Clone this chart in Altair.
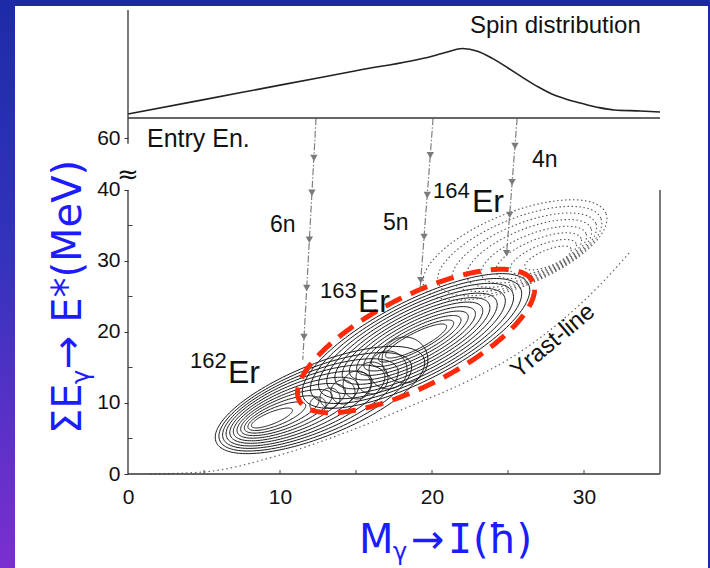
import numpy as np
import pandas as pd
import altair as alt

# ---------------------------------------------------------------- geometry
W, H = 532, 464                     # plot area (px)
X_MAX, Y_MAX = 35.0, 65.35          # spin I (hbar) and energy E* (MeV) ranges
PX_X = W / X_MAX
PX_Y = H / Y_MAX
PAD = {"left": 128, "top": 10, "right": 50, "bottom": 94}

# ---------------------------------------------------------------- data
# spin distribution drawn above the entry plane (its base sits on the E*=50 line)
spin_I = [0, 5, 10, 15, 20, 21, 22, 23, 24, 25, 26, 27, 28, 29, 30, 31, 32, 33.7, 35]
spin_h = [50.70, 52.73, 54.77, 56.80, 58.84, 59.44, 59.93, 59.55, 58.50, 57.18,
          55.80, 54.50, 53.40, 52.68, 52.11, 51.60, 51.27, 51.13, 50.99]
SPIN_BASE = 50.14

# entry-region contour rings: centre (I, E*), semi-axes (in I units), tilt (deg)
er162_cx = [12.63, 12.32, 12.00, 11.68, 11.37, 11.05, 10.74, 10.42, 10.11, 9.79, 9.47]
er162_cy = [10.42, 10.17, 9.92, 9.66, 9.41, 9.15, 8.90, 8.65, 8.39, 8.14, 7.89]
er162_a = [7.37, 6.78, 6.18, 5.59, 5.00, 4.41, 3.82, 3.22, 2.63, 2.04, 1.45]
er162_b = [2.37, 2.17, 1.97, 1.78, 1.58, 1.38, 1.18, 0.99, 0.79, 0.59, 0.39]
er162_tilt = 22

er163_cx = [18.95] * 12
er163_cy = [18.73] * 12
er163_a = [8.29, 7.70, 7.11, 6.51, 5.92, 5.39, 4.87, 4.34, 3.82, 3.29, 2.76, 2.24]
er163_b = [2.63, 2.43, 2.24, 2.04, 1.84, 1.64, 1.45, 1.25, 1.05, 0.86, 0.66, 0.53]
er163_tilt = 27

er164_cx = [25.46, 25.77, 26.08, 26.39, 26.70, 27.01, 27.32, 27.63]
er164_cy = [31.55, 31.39, 31.23, 31.07, 30.90, 30.75, 30.58, 30.42]
er164_a = [6.45, 5.76, 5.07, 4.39, 3.70, 3.02, 2.33, 1.64]
er164_b = [2.43, 2.16, 1.89, 1.62, 1.34, 1.07, 0.80, 0.53]
er164_tilt = 22

# small overlapping cells inside the 163Er region
cell_cx = [12.50, 13.29, 14.14, 15.07, 16.05, 17.11, 18.22]
cell_cy = [9.72, 10.70, 11.55, 12.54, 13.52, 14.65, 16.06]
cell_r = [0.53, 0.66, 0.79, 0.92, 1.05, 1.25, 1.51]

# highlighted region (dashed red outline)
hl_cx, hl_cy, hl_a, hl_b, hl_tilt = 18.95, 18.73, 8.62, 2.96, 27

# yrast line
yrast_I = [1.45, 4.93, 9.99, 14.41, 18.75, 22.50, 25.79, 28.42, 31.05, 33.03]
yrast_E = [0.00, 0.28, 2.68, 5.92, 9.72, 13.24, 17.18, 21.41, 26.62, 31.27]

# neutron-evaporation cascades (start / end) and their arrowheads
casc_name = ["6n", "5n", "4n"]
casc_x1 = [12.37, 20.07, 25.60]
casc_y1 = [50.1, 50.1, 50.1]
casc_x2 = [11.50, 19.20, 24.90]
casc_y2 = [16.1, 25.6, 30.8]
head_x = [12.23, 12.10, 11.93, 11.76, 11.58, 19.89, 19.69, 19.48, 19.26,
          25.46, 25.27, 25.11, 24.91]
head_y = [44.5, 39.6, 33.0, 26.2, 19.3, 44.9, 39.3, 33.4, 27.3,
          46.2, 41.1, 36.5, 31.1]

# text labels (left edge, baseline)
lab_text = ["Spin distribution", "Entry En.", "6n", "5n", "4n",
            "164", "Er", "163", "Er", "162", "Er"]
lab_x = [22.50, 1.25, 9.34, 16.78, 26.58, 20.07, 22.63, 12.63, 15.13, 4.08, 6.58]
lab_y = [62.11, 46.06, 34.08, 34.37, 43.24, 38.87, 36.90, 24.79, 22.82, 14.93, 12.82]
lab_fs = [24, 25, 23, 23, 23, 22, 32, 22, 32, 22, 32]

x_ticks = [0, 10, 20, 30]
y_ticks = [0, 10, 20, 30, 40]
Y60_POS = 47.3          # position of the "60" label above the axis break
x_minor = [5, 10, 15, 20, 25, 30]
y_minor = [5, 15, 25, 35]
TICK_FS = 21


# ---------------------------------------------------------------- helpers
def ring(cx, cy, a, b, tilt, n=140):
    """Outline of a tilted ellipse; a, b are on-screen semi-axes in I units."""
    t = np.linspace(0, 2 * np.pi, n)
    th = np.radians(tilt)
    u = a * PX_X * np.cos(t)
    v = b * PX_X * np.sin(t)
    dx = u * np.cos(th) - v * np.sin(th)
    dy = u * np.sin(th) + v * np.cos(th)
    return cx + dx / PX_X, cy + dy / PX_Y


def rings_frame(name, cxs, cys, aa, bb, tilt):
    rows = []
    for k, (cx, cy, a, b) in enumerate(zip(cxs, cys, aa, bb)):
        xs, ys = ring(cx, cy, a, b, tilt)
        for i, (x, y) in enumerate(zip(xs, ys)):
            rows.append({"ring": f"{name}-{k}", "i": i, "x": x, "y": y})
    return pd.DataFrame(rows)


x_axis = alt.Axis(values=x_ticks, format="d", title=None, grid=False, domain=False,
                  ticks=False, labelFontSize=TICK_FS, labelColor="#111",
                  labelPadding=12, labelFlush=False, labelFont="Liberation Sans",
                  zindex=2)
y_axis = alt.Axis(values=y_ticks + [Y60_POS], title=None, grid=False, domain=False,
                  ticks=True, tickSize=4, tickColor="#333", labelFontSize=TICK_FS,
                  labelColor="#111", labelPadding=4, labelFlush=False,
                  labelFont="Liberation Sans", zindex=2,
                  labelExpr="datum.value > 45 ? '60' : datum.label")
x_scale = alt.Scale(domain=[0, X_MAX], nice=False, zero=False)
y_scale = alt.Scale(domain=[0, Y_MAX], nice=False, zero=False)


def X(f="x"):
    return alt.X(f"{f}:Q", scale=x_scale, axis=x_axis)


def Y(f="y"):
    return alt.Y(f"{f}:Q", scale=y_scale, axis=y_axis)


one = pd.DataFrame({"k": [0]})

# ---------------------------------------------------------------- layers
panel = alt.Chart(one).mark_rect(fill="white").encode(
    x=alt.value(-113), x2=alt.value(580), y=alt.value(-4), y2=alt.value(560))

side = alt.Chart(one).mark_rect(
    fill=alt.Gradient(gradient="linear",
                      stops=[alt.GradientStop(color="#1d2ba8", offset=0),
                             alt.GradientStop(color="#3433bd", offset=0.45),
                             alt.GradientStop(color="#7b2fd0", offset=1)],
                      x1=0, x2=0, y1=0, y2=1)
).encode(x=alt.value(-128), x2=alt.value(-113), y=alt.value(-10), y2=alt.value(560))

frame_df = pd.DataFrame({
    "x": [0, 0, 0, 0, X_MAX],
    "x2": [0, 0, X_MAX, X_MAX, X_MAX],
    "y": [Y_MAX, 40, 0, SPIN_BASE, 0],
    "y2": [46.5, 0, 0, SPIN_BASE, 40],
})
frame = alt.Chart(frame_df).mark_rule(color="#333", strokeWidth=1.3).encode(
    x=X(), x2="x2:Q", y=Y(), y2="y2:Q")

xt = pd.DataFrame({"x": x_minor, "y": [0] * len(x_minor), "y2": [0.55] * len(x_minor)})
xtick = alt.Chart(xt).mark_rule(color="#444", strokeWidth=1).encode(
    x=X(), y=Y(), y2="y2:Q")
yt = pd.DataFrame({"y": y_minor, "x": [0] * len(y_minor), "x2": [0.3] * len(y_minor)})
ytick = alt.Chart(yt).mark_rule(color="#444", strokeWidth=1).encode(
    x=X(), x2="x2:Q", y=Y())

spin_df = pd.DataFrame({"x": spin_I, "y": spin_h})
spin = alt.Chart(spin_df).mark_line(color="#222", strokeWidth=1.6,
                                    interpolate="monotone").encode(x=X(), y=Y())

solid_df = pd.concat([
    rings_frame("162", er162_cx, er162_cy, er162_a, er162_b, er162_tilt),
    rings_frame("163", er163_cx, er163_cy, er163_a, er163_b, er163_tilt),
    rings_frame("cell", cell_cx, cell_cy, cell_r, cell_r, 0),
])
solid = alt.Chart(solid_df).mark_line(color="#1a1a1a", strokeWidth=1).encode(
    x=X(), y=Y(), detail="ring:N", order="i:Q")

dot_df = rings_frame("164", er164_cx, er164_cy, er164_a, er164_b, er164_tilt)
dotted = alt.Chart(dot_df).mark_line(color="#555", strokeWidth=1.1,
                                     strokeDash=[1.5, 2.5]).encode(
    x=X(), y=Y(), detail="ring:N", order="i:Q")

yr_df = pd.DataFrame({"x": yrast_I, "y": yrast_E})
yrast = alt.Chart(yr_df).mark_line(color="#666", strokeWidth=1.2, strokeDash=[1.5, 3],
                                   interpolate="monotone").encode(x=X(), y=Y())

hx, hy = ring(hl_cx, hl_cy, hl_a, hl_b, hl_tilt, n=240)
hl_df = pd.DataFrame({"x": hx, "y": hy, "i": range(len(hx))})
highlight = alt.Chart(hl_df).mark_line(color="#ff2a0a", strokeWidth=5,
                                       strokeDash=[18, 10]).encode(
    x=X(), y=Y(), order="i:Q")

casc_df = pd.DataFrame({"x": casc_x1, "y": casc_y1, "x2": casc_x2, "y2": casc_y2,
                        "n": casc_name})
cascades = alt.Chart(casc_df).mark_rule(color="#808080", strokeWidth=1.2,
                                        strokeDash=[7, 2, 1.5, 2]).encode(
    x=X(), y=Y(), x2="x2:Q", y2="y2:Q")
heads_df = pd.DataFrame({"x": head_x, "y": head_y})
heads = alt.Chart(heads_df).mark_point(shape="triangle-down", filled=True, size=55,
                                       color="#7a7a7a", opacity=1).encode(x=X(), y=Y())

lab_df = pd.DataFrame({"x": lab_x, "y": lab_y, "t": lab_text, "fs": lab_fs})
labels = alt.Chart(lab_df).mark_text(align="left", baseline="alphabetic",
                                     font="Liberation Sans", color="#111").encode(
    x=X(), y=Y(), text="t:N", size=alt.Size("fs:Q", scale=None, legend=None))

brk = alt.Chart(pd.DataFrame({"x": [0], "y": [42.1], "t": ["≈"]})).mark_text(
    align="center", baseline="middle", fontSize=26, font="DejaVu Sans", color="#111"
).encode(x=X(), y=Y(), text="t:N")

yr_lab = alt.Chart(pd.DataFrame({"x": [27.96], "y": [18.73], "t": ["Yrast-line"]})).mark_text(
    align="center", baseline="middle", angle=320, fontSize=24,
    font="Liberation Sans", color="#111").encode(x=X(), y=Y(), text="t:N")

BLUE = "#1c1cff"


def title_piece(text, x, y, size, angle=0, align="left", font="DejaVu Sans"):
    return alt.Chart(one).mark_text(
        text=text, align=align, baseline="alphabetic", angle=angle,
        fontSize=size, font=font, color=BLUE
    ).encode(x=alt.value(x), y=alt.value(y))


titles = [
    title_piece("M", 231, 543, 40),
    title_piece("γ", 265, 550, 24),
    title_piece("→", 283, 543, 40),
    title_piece("I", 332, 543, 40, align="center", font="DejaVu Sans Mono"),
    title_piece("(ħ)", 345, 543, 40),
    title_piece("ΣE", -47, 424, 40, angle=270),
    title_piece("γ", -39, 374, 24, angle=270),
    title_piece("→ E*(MeV)", -47, 359, 40, angle=270),
]

chart = alt.layer(
    panel, side, solid, dotted, yrast, highlight, cascades, heads,
    spin, frame, xtick, ytick, labels, brk, yr_lab, *titles
).properties(
    width=W, height=H, padding=PAD,
    autosize=alt.AutoSizeParams(type="none"),
    background="#1b2aa4",
).configure_view(stroke=None).configure_axis(
    labelFontSize=TICK_FS, labelFont="Liberation Sans", labelColor="#111"
)

chart.save("out.html", embed_options={"renderer": "svg", "actions": False})
